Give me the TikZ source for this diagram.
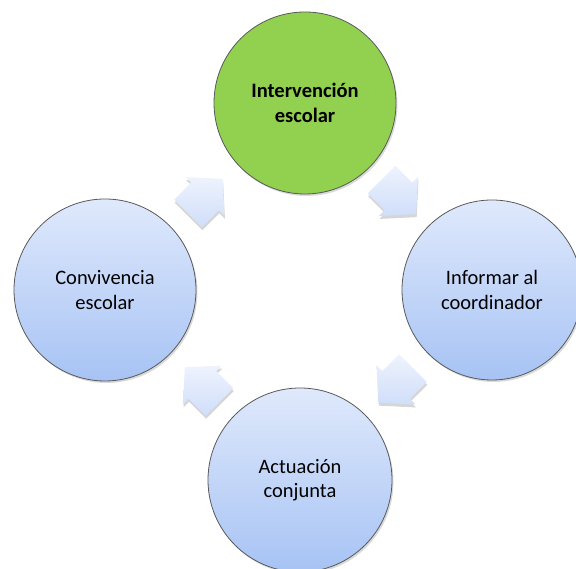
\documentclass[tikz,border=0pt]{standalone}
\usepackage{fontspec}
\setmainfont{Carlito}
\usetikzlibrary{shadows,calc}
\definecolor{cTop}{HTML}{DFE9FC}
\definecolor{cBot}{HTML}{A7C3F4}
\definecolor{cGreen}{HTML}{92D050}
\definecolor{aTop}{HTML}{EEF3FD}
\definecolor{aBot}{HTML}{D0DEFA}
\newcommand\cyclearrowpath[2]{%
  ($(#1)+(#2:-24)+({#2+90}:-19.5)$) -- ($(#1)+({#2+90}:-19.5)$) --
  ($(#1)+({#2+90}:-27.5)$) -- ($(#1)+(#2:25)$) -- ($(#1)+({#2+90}:27.5)$) --
  ($(#1)+({#2+90}:19.5)$) -- ($(#1)+(#2:-24)+({#2+90}:19.5)$) -- cycle}
\begin{document}
\begin{tikzpicture}[x=1pt,y=1pt,
  stage/.style={circle, draw=black!65, line width=0.8pt, minimum size=#1, inner sep=0pt,
    align=center, font=\fontsize{20.5}{24.5}\selectfont,
    drop shadow={shadow xshift=1.5pt, shadow yshift=-2pt, opacity=0.3}},
  bluestage/.style={stage=#1, top color=cTop, bottom color=cBot},
  greenstage/.style={stage=#1, fill=cGreen, font=\bfseries\fontsize{20.5}{24.5}\selectfont},
  cycshadow/.style={fill=black, opacity=0.16},
  cycfill/.style={top color=aTop, bottom color=aBot}]
\useasboundingbox (0,0) rectangle (576,569);
\clip (0,0) rectangle (576,569);
\node[greenstage=182pt] (top) at (305,466) {Intervención\\escolar};
\node[bluestage=182pt] (left) at (105,279) {Convivencia\\escolar};
\node[bluestage=180pt] (right) at (492,279) {Informar al\\coordinador};
\node[bluestage=184pt] (bottom) at (300,89) {Actuación\\conjunta};
\coordinate (a1) at ($(left)!0.5!(top)$);
\coordinate (a2) at ($(top)!0.5!(right)$);
\coordinate (a3) at ($(right)!0.5!(bottom)$);
\coordinate (a4) at ($(bottom)!0.5!(left)$);
\foreach \c/\ang in {a1/45, a2/-45, a3/-135, a4/135} {
  \coordinate (s) at ($(\c)+(0.5,-3)$);
  \path[cycshadow] \cyclearrowpath{s}{\ang};
  \path[cycfill] \cyclearrowpath{\c}{\ang};
}
\end{tikzpicture}
\end{document}
